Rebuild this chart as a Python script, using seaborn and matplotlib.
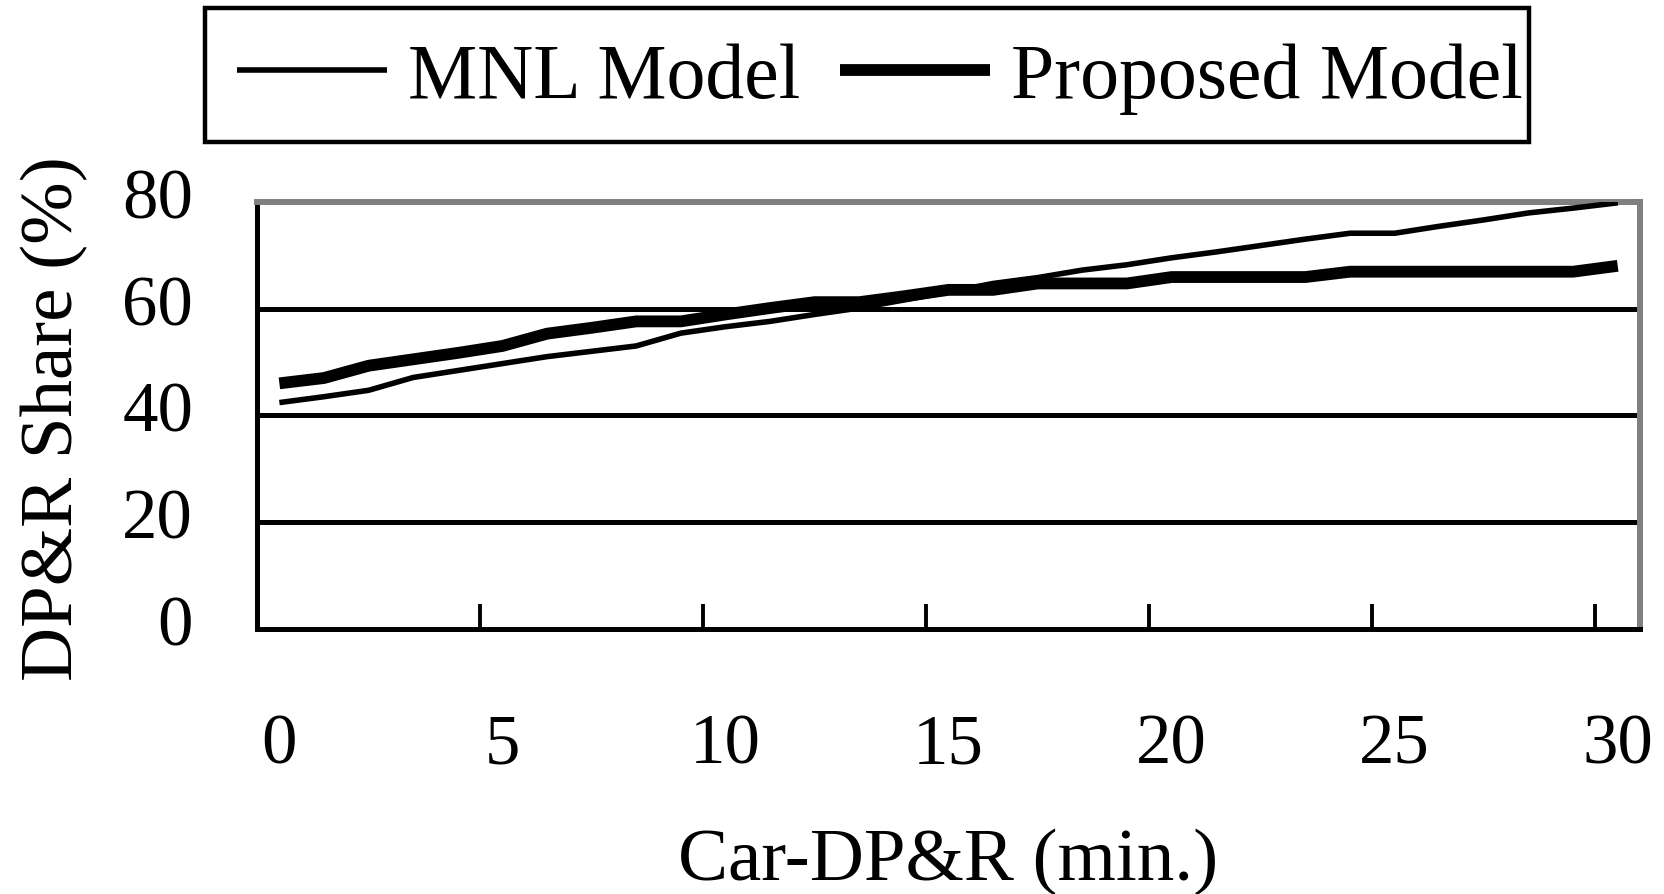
import numpy as np
import pandas as pd
import matplotlib
matplotlib.use("Agg")
import matplotlib.pyplot as plt
from matplotlib.patches import Rectangle
from matplotlib.transforms import ScaledTranslation
import seaborn as sns

# Car-DP&R travel time (min.) and predicted DP&R share (%) for each model
minutes = list(range(0, 31))
mnl_share = [42.4, 43.5, 44.7, 47.1, 48.4, 49.7, 51.0, 52.0, 53.0, 55.4,
             56.6, 57.6, 58.9, 60.1, 61.6, 63.1, 64.7, 65.8, 67.2, 68.2,
             69.5, 70.6, 71.8, 73.0, 74.1, 74.1, 75.4, 76.6, 77.9, 78.8,
             79.8]
proposed_share = [46.0, 47.0, 49.3, 50.5, 51.7, 53.0, 55.3, 56.4, 57.6, 57.6,
                  58.9, 60.1, 61.2, 61.2, 62.3, 63.5, 63.5, 64.7, 64.7, 64.7,
                  65.9, 65.9, 65.9, 65.9, 66.9, 66.9, 66.9, 66.9, 66.9, 66.9,
                  68.0]
series_names = ["MNL Model", "Proposed Model"]
x_tick_labels = ["0", "5", "10", "15", "20", "25", "30"]
y_ticks = [0, 20, 40, 60, 80]

df = pd.DataFrame({
    "minutes": minutes * 2,
    "share": mnl_share + proposed_share,
    "model": [series_names[0]] * len(minutes) + [series_names[1]] * len(minutes),
})

sns.set_theme(style="white")
plt.rcParams["font.family"] = ["Liberation Serif", "DejaVu Serif"]

fig = plt.figure(figsize=(16.65, 8.95), dpi=100)
ax = fig.add_axes([0.1544, 0.296, 0.8306, 0.4775])

widths = {series_names[0]: 4.0, series_names[1]: 8.5}
for name in series_names:
    sub = df[df["model"] == name]
    sns.lineplot(data=sub, x="minutes", y="share", ax=ax, color="black",
                 linewidth=widths[name], legend=False, zorder=3,
                 solid_capstyle="butt", solid_joinstyle="round")

ax.set_xlim(-0.5, 30.5)
ax.set_ylim(0, 80)

# category labels under each fifth minute, tick marks between categories
ax.set_xticks([0, 5, 10, 15, 20, 25, 30])
ax.set_xticklabels(x_tick_labels)
ax.set_xticks(np.arange(4.5, 30, 5), minor=True)
ax.tick_params(axis="x", which="major", length=0, pad=60, labelsize=51,
               labelcolor="black")
ax.tick_params(axis="x", which="minor", direction="in", length=18, width=2.8,
               color="black", bottom=True)

ax.set_yticks(y_ticks)
ax.tick_params(axis="y", which="major", direction="in", length=18.5, width=3.6,
               color="black", left=True, pad=46, labelsize=51,
               labelcolor="black")
# value labels sit slightly above their gridlines
lift = ScaledTranslation(0, 6.8 / 72, fig.dpi_scale_trans)
for lbl in ax.get_yticklabels():
    lbl.set_transform(lbl.get_transform() + lift)

ax.yaxis.grid(True, color="black", linewidth=3.6)
ax.xaxis.grid(False)
ax.set_axisbelow(True)

for side in ["left", "bottom"]:
    ax.spines[side].set_color("black")
    ax.spines[side].set_linewidth(3.6)
for side in ["top", "right"]:
    ax.spines[side].set_color("#808080")
    ax.spines[side].set_linewidth(4.3)
    ax.spines[side].set_visible(True)

ax.set_xlabel("Car-DP&R (min.)", fontsize=54, color="black")
ax.set_ylabel("DP&R Share (%)", fontsize=54, color="black")
ax.xaxis.set_label_coords(0.4996, -0.465)
ax.yaxis.set_label_coords(-0.122, 0.494)

# legend above the plot area in its own box
handles = ax.get_lines()[:2]
fig.legend(handles, series_names, loc="center", ncol=2, frameon=False,
           bbox_to_anchor=(0.5285, 0.911), bbox_transform=fig.transFigure,
           fontsize=56, handlelength=1.92, handletextpad=0.27,
           columnspacing=0.52, borderpad=0, labelcolor="black")
fig.patches.append(Rectangle((0.1231, 0.8398), 0.7952, 0.1507,
                             transform=fig.transFigure, fill=False,
                             edgecolor="black", linewidth=3.2))

fig.savefig("out.png", dpi=100, facecolor="white")
